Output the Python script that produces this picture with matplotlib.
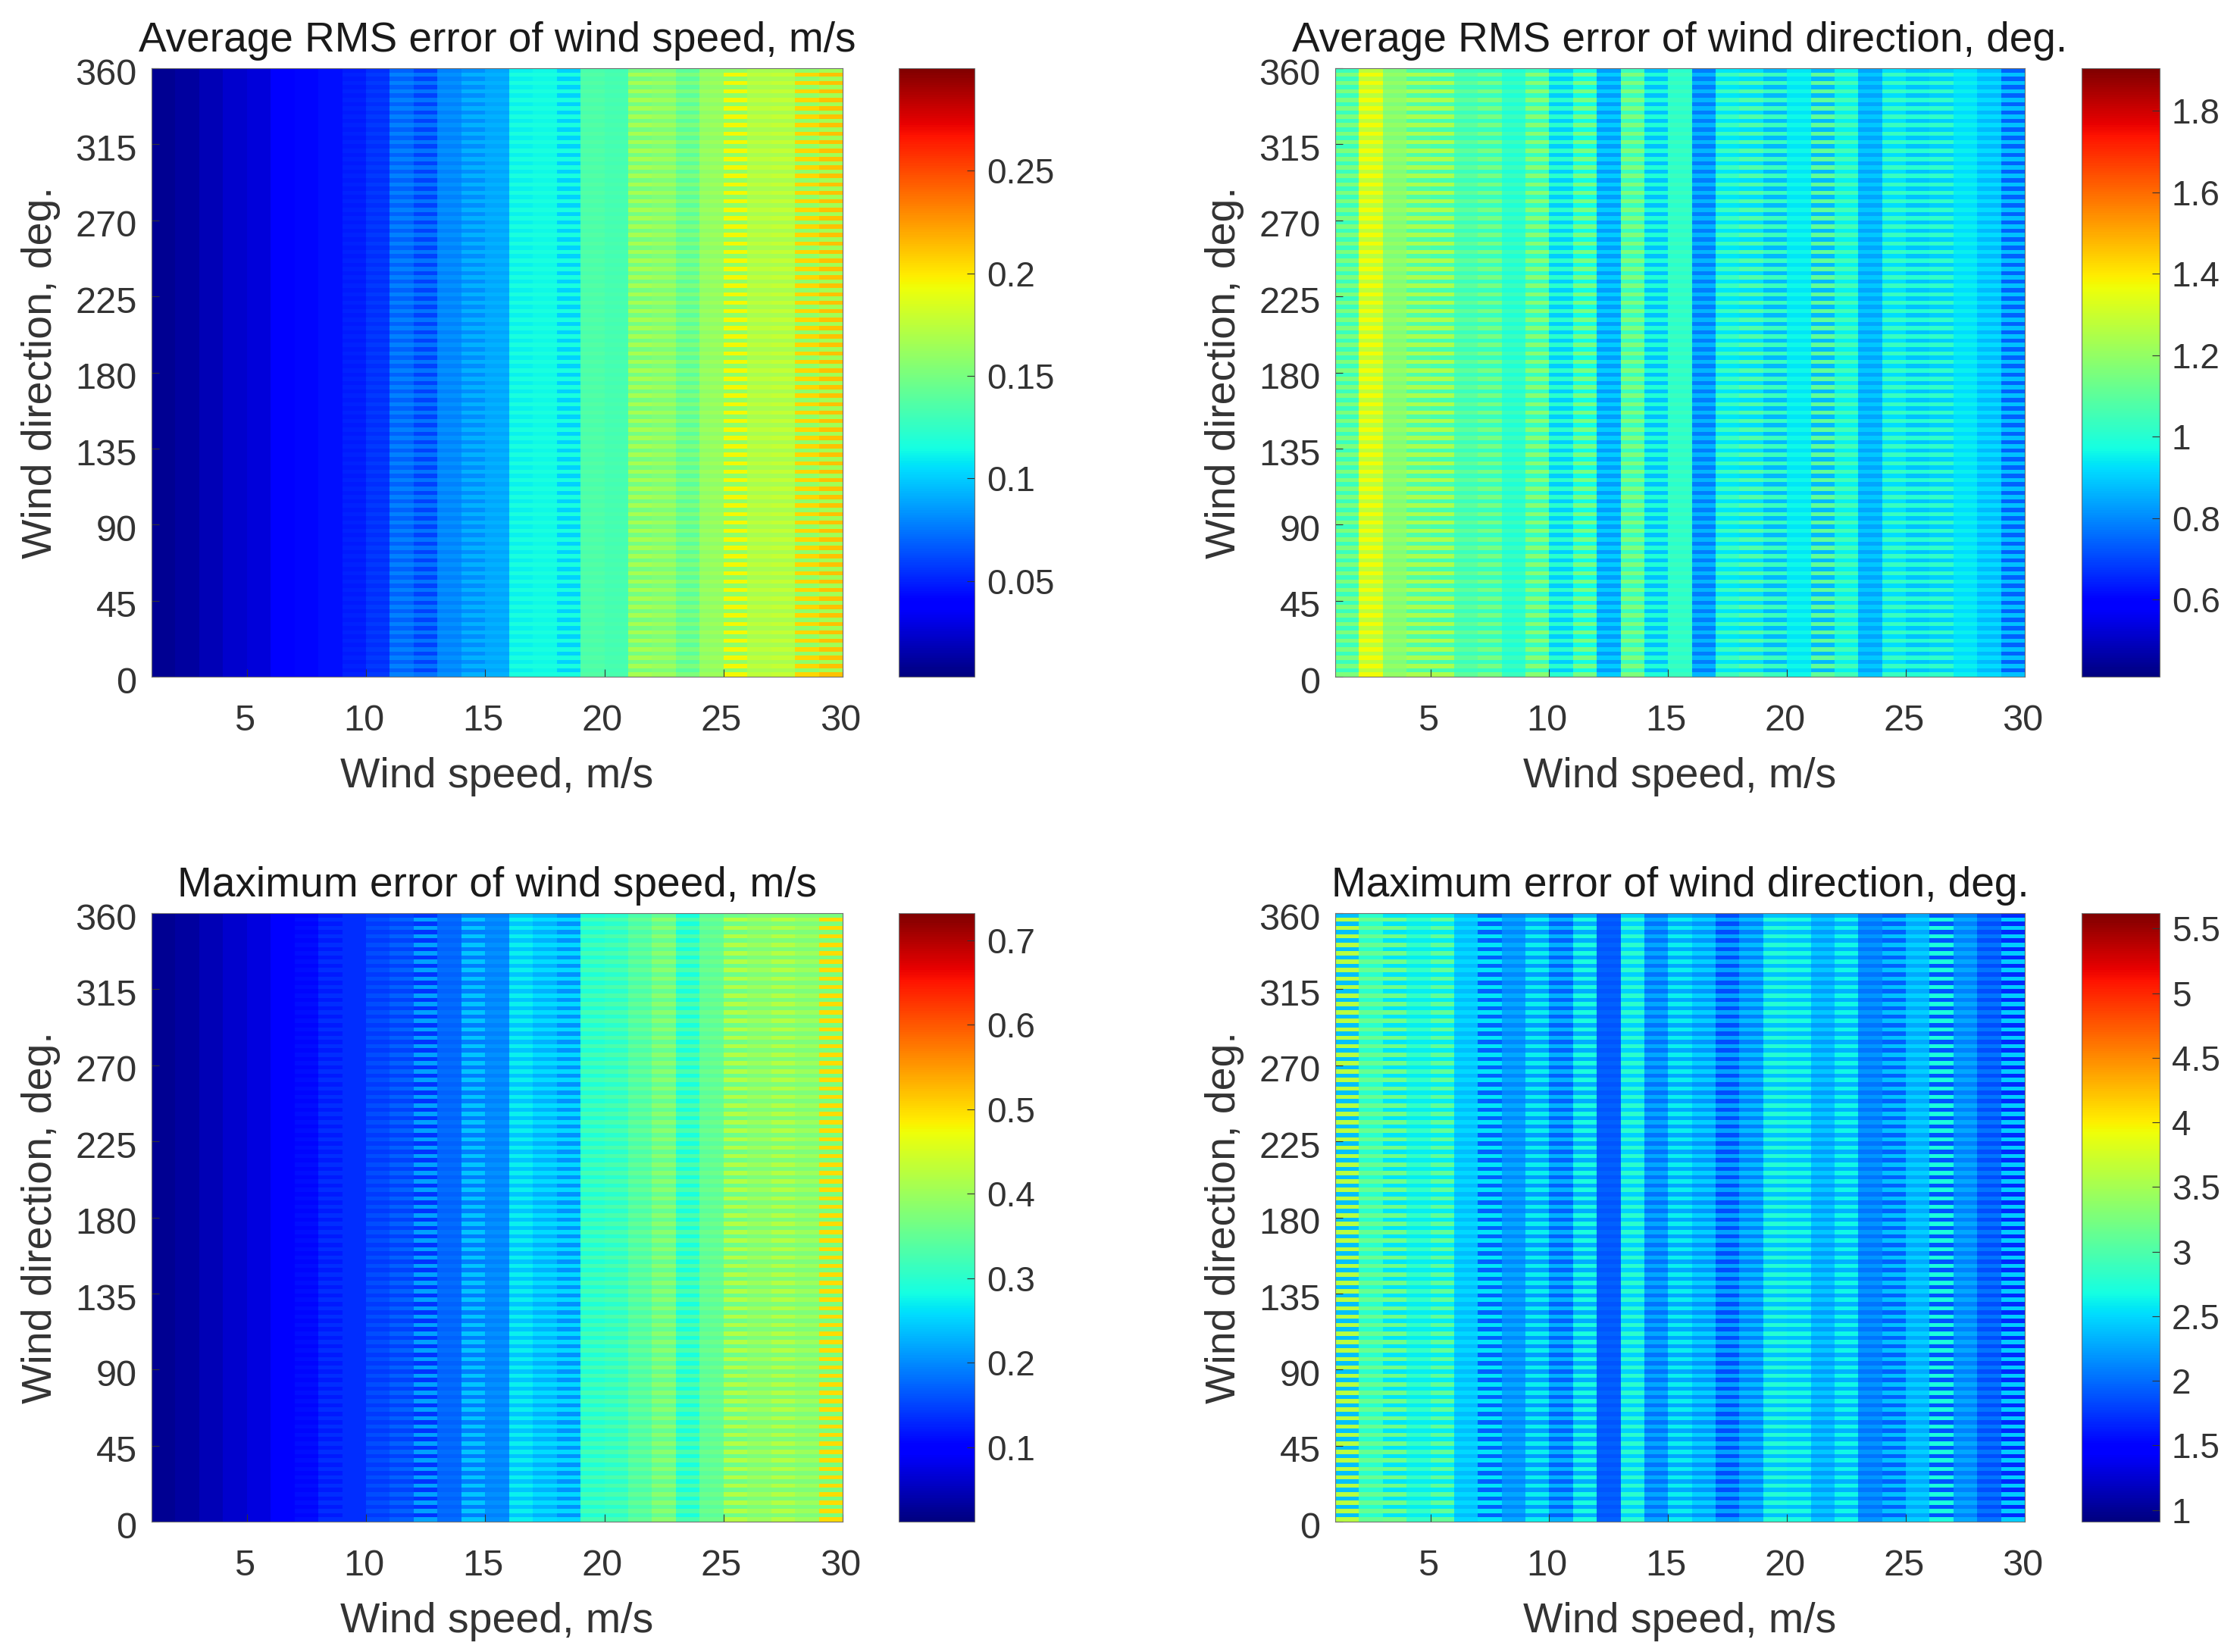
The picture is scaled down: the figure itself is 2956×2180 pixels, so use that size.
import numpy as np
import matplotlib
matplotlib.use("Agg")
import matplotlib.pyplot as plt
from matplotlib.transforms import ScaledTranslation

plt.rcParams['font.family'] = ['Liberation Sans', 'DejaVu Sans']

FIG_W, FIG_H = 2956, 2180

speed_edges = np.arange(1, 31)
direction_edges = np.arange(0, 362.5, 2.5)

rms_speed_low = [.009,.012,.018,.024,.027,.037,.042,.045,.048,.054,.069,.060,.078,.081,.089,
                 .110,.113,.101,.134,.131,.149,.152,.140,.158,.158,.167,.167,.158,.165]
rms_speed_high = [.009,.012,.018,.024,.027,.037,.042,.045,.050,.057,.078,.075,.083,.092,.092,
                  .116,.116,.116,.137,.134,.167,.164,.152,.164,.195,.175,.178,.205,.212]
rms_dir_low = [1.04,1.27,1.16,1.08,1.06,1.04,1.03,.99,1.03,.90,.97,.83,1.04,.88,1.01,
               .78,.93,.92,.87,.93,.87,.95,.84,.92,.88,.90,.92,.87,.74]
rms_dir_high = [1.16,1.37,1.20,1.24,1.24,1.10,1.15,1.04,1.18,1.01,1.15,.90,1.16,.99,1.04,
                .86,1.04,1.08,1.04,.96,1.11,1.05,.89,1.03,1.00,1.02,.95,.92,.88]
max_speed_low = [.026,.034,.048,.062,.073,.095,.106,.120,.134,.142,.149,.140,.170,.190,.192,
                 .242,.228,.205,.293,.300,.329,.350,.286,.343,.358,.372,.372,.372,.370]
max_speed_high = [.026,.034,.048,.062,.073,.095,.113,.134,.134,.156,.170,.215,.178,.240,.206,
                  .271,.257,.255,.322,.329,.350,.386,.329,.358,.420,.401,.420,.401,.500]
max_dir_low = [2.40,2.80,2.55,2.60,2.60,2.37,1.95,2.13,2.23,1.95,2.30,1.90,2.46,2.04,2.28,
               2.18,1.85,2.09,2.40,2.37,2.23,2.32,2.04,1.95,2.28,1.90,2.09,1.85,1.70]
max_dir_high = [3.60,3.15,3.20,2.85,3.10,2.51,2.55,2.28,2.61,2.32,2.70,1.95,2.80,2.28,2.61,
                2.46,2.25,2.37,2.75,2.70,2.42,2.65,2.18,2.40,2.46,2.70,2.28,2.04,2.45]

titles = ["Average RMS error of wind speed, m/s", "Average RMS error of wind direction, deg.",
          "Maximum error of wind speed, m/s", "Maximum error of wind direction, deg."]
color_limits = [(.0033, .30), (.41, 1.905), (.012, .732), (.91, 5.62)]
color_ticks = [[.05, .1, .15, .2, .25],
               [.6, .8, 1, 1.2, 1.4, 1.6, 1.8],
               [.1, .2, .3, .4, .5, .6, .7],
               [1, 1.5, 2, 2.5, 3, 3.5, 4, 4.5, 5, 5.5]]
x_ticks = [5, 10, 15, 20, 25, 30]
y_ticks = [0, 45, 90, 135, 180, 225, 270, 315, 360]
lows = [rms_speed_low, rms_dir_low, max_speed_low, max_dir_low]
highs = [rms_speed_high, rms_dir_high, max_speed_high, max_dir_high]

# pixel boxes: left, top, right, bottom
axes_px = [(200, 90, 1112, 893), (1762, 90, 2672, 893),
           (200, 1205, 1112, 2008), (1762, 1205, 2672, 2008)]
bar_px = [(1186, 90, 1286, 893), (2747, 90, 2850, 893),
          (1186, 1205, 1286, 2008), (2747, 1205, 2850, 2008)]


def box(p):
    l, t, r, b = p
    return [l / FIG_W, 1 - b / FIG_H, (r - l) / FIG_W, (b - t) / FIG_H]


TXT = '#333333'
fig = plt.figure(figsize=(FIG_W / 100, FIG_H / 100), dpi=100)
cmap = plt.get_cmap('jet', 256)
y_shift = ScaledTranslation(0, -3 / 72, fig.dpi_scale_trans)
x_shift = ScaledTranslation(-2 / 72, 0, fig.dpi_scale_trans)
for i in range(4):
    ax = fig.add_axes(box(axes_px[i]))
    low = np.asarray(lows[i])
    high = np.asarray(highs[i])
    rows = np.arange(len(direction_edges) - 1)
    grid = np.where((rows % 2 == 0)[:, None], high[None, :], low[None, :])
    m = ax.pcolormesh(speed_edges, direction_edges, grid, cmap=cmap,
                      vmin=color_limits[i][0], vmax=color_limits[i][1],
                      shading='flat', antialiased=False, linewidth=0)
    ax.set_xlim(1, 30)
    ax.set_ylim(0, 360)
    ax.set_xticks(x_ticks)
    ax.set_yticks(y_ticks)
    ax.tick_params(direction='in', length=7, width=.8, labelsize=35, colors=TXT, pad=14)
    ax.tick_params(axis='x', pad=26)
    for label in ax.get_yticklabels():
        label.set_transform(label.get_transform() + y_shift)
    for label in ax.get_xticklabels():
        label.set_transform(label.get_transform() + x_shift)
    for s in ax.spines.values():
        s.set_linewidth(.8)
        s.set_color('#707070')
    ax.set_xlabel("Wind speed, m/s", fontsize=40, color=TXT, labelpad=18)
    ax.set_ylabel("Wind direction, deg.", fontsize=40, color=TXT, labelpad=14)
    ax.set_title(titles[i], fontsize=39.6, color='#1a1a1a', pad=15.5)

    cax = fig.add_axes(box(bar_px[i]))
    cb = fig.colorbar(m, cax=cax)
    cb.set_ticks(color_ticks[i])
    cb.set_ticklabels(['%g' % v for v in color_ticks[i]])
    cax.tick_params(direction='in', length=7, width=.8, labelsize=33, labelcolor=TXT,
                    color='#333333', pad=11.5)
    cb.outline.set_linewidth(.8)
    cb.outline.set_edgecolor('#707070')

fig.savefig("out.png", dpi=100)
